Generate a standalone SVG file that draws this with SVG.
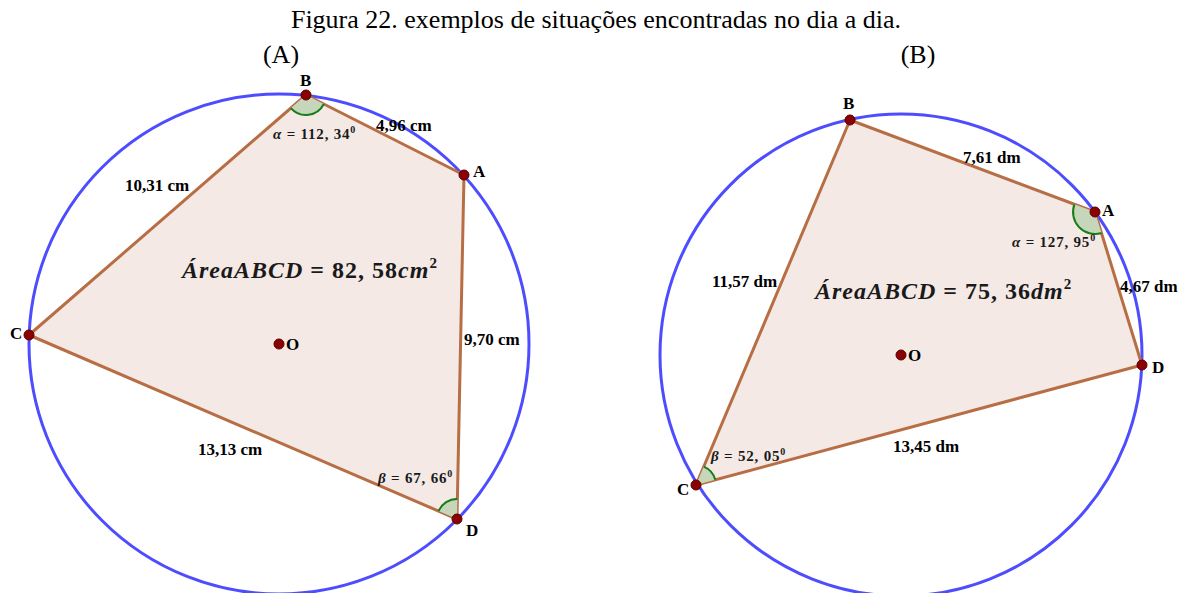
<svg xmlns="http://www.w3.org/2000/svg" width="1191" height="593" viewBox="0 0 1191 593">
<style>
.circ{fill:none;stroke:#4d4dff;stroke-width:3}
.poly{fill:#f4e9e5;stroke:#b76e45;stroke-width:3;stroke-linejoin:round}
.ang{fill:#c5d6bb;stroke:none}
.arc{fill:none;stroke:#177d17;stroke-width:2}
.pt{fill:#8b0000;stroke:#5a0000;stroke-width:1}
.lbl{font-family:"Liberation Serif",serif;font-weight:bold;font-size:17px;fill:#000}
.ttl{font-family:"Liberation Serif",serif;font-size:26px;fill:#000}
.area{font-family:"Liberation Serif",serif;font-weight:bold;font-size:24px;letter-spacing:1px;fill:#1a1a1a}
.it{font-style:italic}
.alab{font-family:"Liberation Serif",serif;font-weight:bold;font-size:15px;letter-spacing:0.8px;fill:#1a1a1a}
</style>
<rect width="1191" height="593" fill="#fff"/>
<text class="ttl" x="596" y="28" text-anchor="middle">Figura 22. exemplos de situações encontradas no dia a dia.</text>
<text class="ttl" x="281" y="63" text-anchor="middle">(A)</text>
<text class="ttl" x="918" y="63" text-anchor="middle">(B)</text>

<g id="figA">
<circle id="circleA" class="circ" cx="279" cy="344" r="250"/>
<polygon id="quadA" class="poly" points="464,175 306,95 29,335 457,519"/>
<g id="angleA-B">
<path class="ang" d="M306,95 L290.9,108.1 A20,20 0 0,0 323.8,104 Z"/>
<path class="arc" d="M290.9,108.1 A20,20 0 0,0 323.8,104"/>
</g>
<g id="angleA-D">
<path class="ang" d="M457,519 L438.6,511.1 A20,20 0 0,1 457.4,499 Z"/>
<path class="arc" d="M438.6,511.1 A20,20 0 0,1 457.4,499"/>
</g>
<g id="ptA-A"><circle class="pt" cx="464" cy="175" r="5"/><text class="lbl" x="473" y="177">A</text></g>
<g id="ptA-B"><circle class="pt" cx="306" cy="95" r="5"/><text class="lbl" x="300" y="86">B</text></g>
<g id="ptA-C"><circle class="pt" cx="29" cy="335" r="5"/><text class="lbl" x="10" y="339">C</text></g>
<g id="ptA-D"><circle class="pt" cx="457" cy="519" r="5"/><text class="lbl" x="466" y="536">D</text></g>
<g id="ptA-O"><circle class="pt" cx="279" cy="344" r="5"/><text class="lbl" x="286" y="350">O</text></g>
<text class="lbl" x="376" y="131">4,96 cm</text>
<text class="lbl" x="125" y="191">10,31 cm</text>
<text class="lbl" x="464" y="345">9,70 cm</text>
<text class="lbl" x="198" y="455">13,13 cm</text>
<text class="alab" x="273" y="139"><tspan class="it">α</tspan> = 112, 34<tspan font-size="10" dy="-6">0</tspan></text>
<text class="alab" x="378" y="483"><tspan class="it">β</tspan> = 67, 66<tspan font-size="10" dy="-6">0</tspan></text>
<text class="area" x="182" y="278"><tspan class="it">ÁreaABCD</tspan> = 82, 58<tspan class="it">cm</tspan><tspan font-size="15" dy="-10">2</tspan></text>
</g>

<g id="figB">
<circle id="circleB" class="circ" cx="901" cy="355" r="241"/>
<polygon id="quadB" class="poly" points="1095,212 850,120 696,485 1142,365"/>
<g id="angleB-A">
<path class="ang" d="M1095,212 L1074.4,204.3 A22,22 0 0,0 1101.5,233 Z"/>
<path class="arc" d="M1074.4,204.3 A22,22 0 0,0 1101.5,233"/>
</g>
<g id="angleB-C">
<path class="ang" d="M696,485 L703.8,466.6 A20,20 0 0,1 715.3,479.8 Z"/>
<path class="arc" d="M703.8,466.6 A20,20 0 0,1 715.3,479.8"/>
</g>
<g id="ptB-A"><circle class="pt" cx="1095" cy="212" r="5"/><text class="lbl" x="1102" y="216">A</text></g>
<g id="ptB-B"><circle class="pt" cx="850" cy="120" r="5"/><text class="lbl" x="843" y="109">B</text></g>
<g id="ptB-C"><circle class="pt" cx="696" cy="485" r="5"/><text class="lbl" x="677" y="495">C</text></g>
<g id="ptB-D"><circle class="pt" cx="1142" cy="365" r="5"/><text class="lbl" x="1152" y="373">D</text></g>
<g id="ptB-O"><circle class="pt" cx="901" cy="355" r="5"/><text class="lbl" x="908" y="361">O</text></g>
<text class="lbl" x="963" y="163">7,61 dm</text>
<text class="lbl" x="712" y="287">11,57 dm</text>
<text class="lbl" x="1120" y="292">4,67 dm</text>
<text class="lbl" x="893" y="452">13,45 dm</text>
<text class="alab" x="1012" y="247"><tspan class="it">α</tspan> = 127, 95<tspan font-size="10" dy="-6">0</tspan></text>
<text class="alab" x="711" y="461"><tspan class="it">β</tspan> = 52, 05<tspan font-size="10" dy="-6">0</tspan></text>
<text class="area" x="815" y="299"><tspan class="it">ÁreaABCD</tspan> = 75, 36<tspan class="it">dm</tspan><tspan font-size="15" dy="-10">2</tspan></text>
</g>
</svg>
